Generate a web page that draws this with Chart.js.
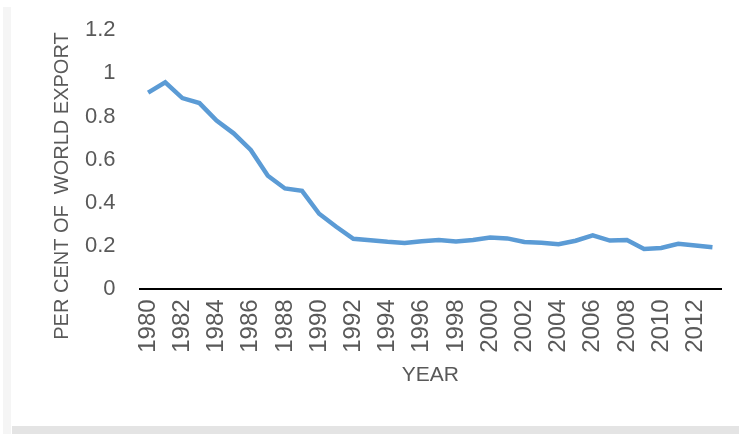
<!DOCTYPE html>
<html>
<head>
<meta charset="utf-8">
<script src="https://cdn.jsdelivr.net/npm/chart.js@4.4.1/dist/chart.umd.min.js"></script>
<style>
  html, body { margin: 0; padding: 0; background: #ffffff; }
  #wrap { position: relative; width: 739px; height: 434px; overflow: hidden; background: #ffffff; }
  #leftStrip { position: absolute; left: 3px; top: 7px; width: 8px; height: 427px; background: #f5f5f5; }
  #bottomBand { position: absolute; left: 12px; top: 426px; width: 727px; height: 8px; background: #e4e4e4; }
  canvas { position: absolute; left: 0; top: 0; }
</style>
</head>
<body>
<div id="wrap">
  <div id="leftStrip"></div>
  <div id="bottomBand"></div>
  <canvas id="c" width="739" height="434"></canvas>
</div>
<script>
const years = [1980,1981,1982,1983,1984,1985,1986,1987,1988,1989,1990,1991,1992,1993,1994,1995,1996,1997,1998,1999,2000,2001,2002,2003,2004,2005,2006,2007,2008,2009,2010,2011,2012,2013];
const shareOfWorldExport = [0.91,0.958,0.885,0.862,0.781,0.722,0.645,0.526,0.467,0.456,0.350,0.290,0.234,0.227,0.220,0.215,0.223,0.228,0.222,0.229,0.240,0.236,0.219,0.216,0.209,0.225,0.250,0.226,0.229,0.187,0.192,0.211,0.203,0.195];
const yTicks = [0, 0.2, 0.4, 0.6, 0.8, 1, 1.2];
const xTitle = 'YEAR';
const yTitle = 'PER CENT OF  WORLD EXPORT';

const textColor = '#595959';
const fontFamily = '"Liberation Sans", Arial, sans-serif';

const yTitlePlugin = {
  id: 'yTitlePlugin',
  afterDraw(chart) {
    const ctx = chart.ctx;
    ctx.save();
    ctx.translate(62, 186);
    ctx.rotate(-Math.PI / 2);
    ctx.font = '20px ' + fontFamily;
    ctx.fillStyle = textColor;
    ctx.textAlign = 'center';
    ctx.textBaseline = 'middle';
    ctx.fillText(yTitle, 0, 0);
    ctx.restore();
  }
};

new Chart(document.getElementById('c'), {
  type: 'line',
  data: {
    labels: years.map(String),
    datasets: [{
      data: shareOfWorldExport,
      borderColor: '#5b9bd5',
      borderWidth: 4.5,
      pointRadius: 0,
      tension: 0,
      fill: false
    }]
  },
  options: {
    responsive: false,
    animation: false,
    devicePixelRatio: 1,
    layout: { padding: { left: 61, right: 18, top: 30, bottom: 46 } },
    plugins: { legend: { display: false }, tooltip: { enabled: false } },
    scales: {
      x: {
        offset: true,
        afterFit: (scale) => { scale.paddingLeft = 0; scale.paddingRight = 0; },
        grid: { display: false, drawTicks: false },
        border: { display: true, color: '#000000', width: 2 },
        ticks: {
          autoSkip: false,
          maxRotation: 90,
          minRotation: 90,
          padding: 10,
          color: textColor,
          font: { family: fontFamily, size: 24 },
          callback: function(value, index) { return index % 2 === 0 ? this.getLabelForValue(value) : ''; }
        },
        title: {
          display: true,
          text: xTitle,
          color: textColor,
          font: { family: fontFamily, size: 21 },
          padding: { top: 0, bottom: 0 }
        }
      },
      y: {
        min: 0,
        max: 1.2,
        afterBuildTicks: (scale) => { scale.ticks = yTicks.map(v => ({ value: v })); },
        afterFit: (scale) => { scale.paddingTop = 0; scale.paddingBottom = 0; },
        grid: { display: false, drawTicks: false },
        border: { display: false },
        ticks: {
          padding: 24,
          color: textColor,
          font: { family: fontFamily, size: 22 },
          callback: (v) => String(Math.round(v * 10) / 10)
        }
      }
    }
  },
  plugins: [yTitlePlugin]
});
</script>
</body>
</html>
